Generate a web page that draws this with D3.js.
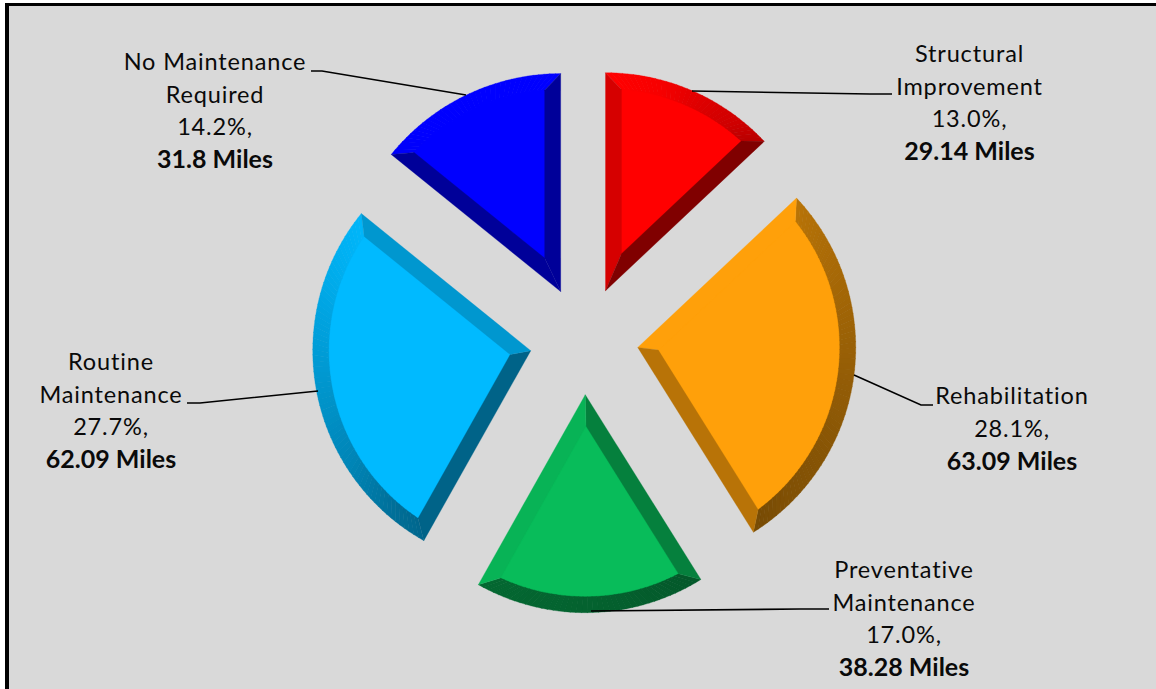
<!DOCTYPE html>
<html><head><meta charset="utf-8">
<script src="https://cdn.jsdelivr.net/npm/d3@7"></script>
<style>html,body{margin:0;padding:0;background:#fff}svg{display:block}text{font-family:Lato,Carlito,sans-serif;fill:#0a0a0a}</style>
</head><body><svg id="c" width="1156" height="689"></svg>
<script>
const categories=["Structural Improvement","Rehabilitation","Preventative Maintenance","Routine Maintenance","No Maintenance Required"];
const miles=[29.14,63.09,38.28,62.09,31.8];
const percents=["13.0%","28.1%","17.0%","27.7%","14.2%"];
const faceColors=["#ff0000","#ffa00a","#08bc5a","#00baff","#0000ff"];
const labelLines=[["Structural","Improvement"],["Rehabilitation"],["Preventative","Maintenance"],["Routine","Maintenance"],["No Maintenance","Required"]];
const W=1156,H=689,cx=584,cy=340.5,R=218,explode=54.2,bevel=16;
const leaders=[[[692,91],[870,94],[892,94]],[[854,375],[921,405],[933,405]],[[591,611],[800,609],[829,609]],[[318,391],[200,403],[187,403]],[[466,95],[322,71],[311,71]]];
const labelAnchor=[[969.5,62],[1012,404],[904,578],[111,370],[215,70]];
const shadeStops=[0,14,27,39,47,58,90,120,137,148,178,209,219,238,270,299,317,355,360];
const shadeVals=[1,.97,.87,.81,.72,.68,.6,.53,.5,.47,.52,.55,.6,.72,.84,.95,1,1,1];
const shade=d3.scaleLinear().domain(shadeStops).range(shadeVals).clamp(true);
const svg=d3.select("#c");
svg.append("rect").attr("x",0).attr("y",0).attr("width",W).attr("height",H).attr("fill","#fff");
svg.append("rect").attr("x",5).attr("y",3).attr("width",W-5).attr("height",H-3).attr("fill","#000");
svg.append("rect").attr("x",9).attr("y",6).attr("width",W-9).attr("height",H-6).attr("fill","#d9d9d9");

const pie=d3.pie().sort(null).startAngle(0).endAngle(2*Math.PI);
const arcs=pie(miles);
const deg=r=>((r*180/Math.PI)%360+360)%360;
const pt=(r,a)=>[r*Math.sin(a),-r*Math.cos(a)];
const tint=(col,s)=>{const c=d3.rgb(col);return d3.rgb(c.r*s,c.g*s,c.b*s).formatHex();};
const poly=d3.line();

arcs.forEach((d,i)=>{
  const a0=d.startAngle,a1=d.endAngle,mid=(a0+a1)/2,half=(a1-a0)/2;
  const off=pt(explode,mid);
  const g=svg.append("g").attr("transform",`translate(${cx+off[0]},${cy+off[1]})`);
  const col=faceColors[i];
  const r2=R-bevel,da=Math.asin(bevel/r2);
  const apexIn=pt(bevel/Math.sin(half),mid);
  const b0=a0+da,b1=a1-da;
  // top face first, slightly grown, so that the bevels blend onto it
  const face=d3.range(0,61).map(k=>pt(r2,b0+(b1-b0)*k/60));
  g.append("path").attr("d",poly([apexIn,...face])+"Z").attr("fill",col).attr("stroke",col).attr("stroke-width",1.5);
  // arc bevel, shaded along its normal
  const n=Math.ceil((a1-a0)*180/Math.PI/1.5);
  d3.range(n).forEach(k=>{
    const t0=k/n,t1=(k+1)/n,eps=k<n-1?.002:0;
    const o0=a0+(a1-a0)*t0,o1=a0+(a1-a0)*t1+eps;
    const q0=b0+(b1-b0)*t0,q1=b0+(b1-b0)*t1+eps;
    const fill=tint(col,shade(deg((o0+o1)/2)));
    g.append("path").attr("d",poly([pt(R,o0),pt(R,o1),pt(r2,q1),pt(r2,q0)])+"Z").attr("fill",fill).attr("stroke",fill).attr("stroke-width",.3);
  });
  // straight bevels
  [[a0,b0,a0-Math.PI/2],[a1,b1,a1+Math.PI/2]].forEach(([o,b,nrm])=>{
    const fill=tint(col,shade(deg(nrm)));
    g.append("path").attr("d",poly([[0,0],apexIn,pt(r2,b),pt(R,o)])+"Z").attr("fill",fill).attr("stroke",fill).attr("stroke-width",.3);
  });
});

leaders.forEach(l=>svg.append("path").attr("d",poly(l)).attr("fill","none").attr("stroke","#000").attr("stroke-width",1.6));

categories.forEach((c,i)=>{
  const [x,y]=labelAnchor[i];
  const lines=[...labelLines[i],percents[i]+","];
  const t=svg.append("text").attr("text-anchor","middle").attr("font-size",23.5);
  lines.forEach((s,j)=>t.append("tspan").attr("x",x).attr("y",y+32*j+(j?.7:0)).attr("letter-spacing",.85).text(s));
  t.append("tspan").attr("x",x).attr("y",y+32*lines.length+1.5).attr("font-weight",700).attr("font-size",25).text(miles[i]+" Miles");
});
</script></body></html>
